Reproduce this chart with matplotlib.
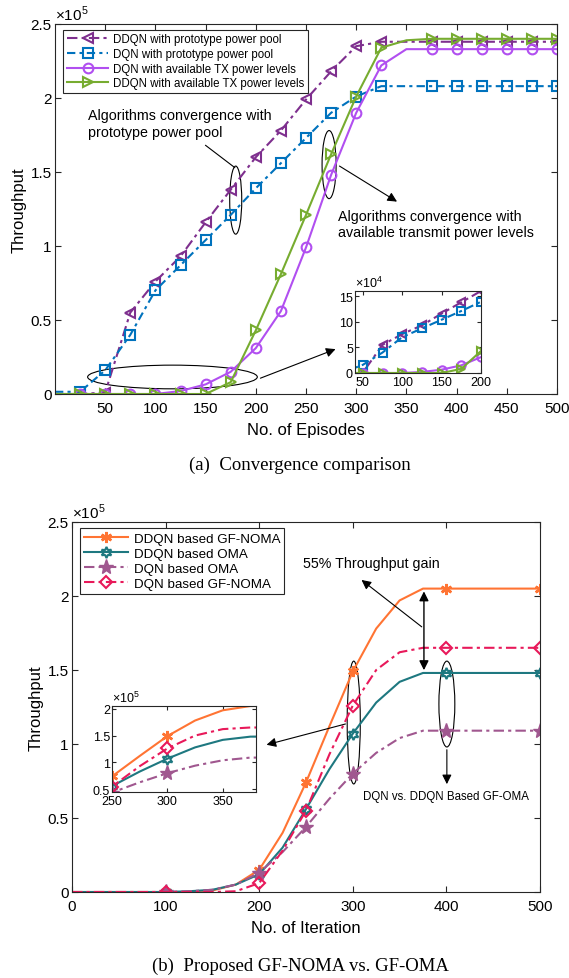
import numpy as np
import matplotlib
matplotlib.use("Agg")
import matplotlib.pyplot as plt
from matplotlib.patches import Ellipse

plt.rcParams['font.family'] = ['Liberation Sans', 'DejaVu Sans']
plt.rcParams['mathtext.fontset'] = 'custom'
plt.rcParams['mathtext.rm'] = 'Liberation Sans'

# --- (a) data, throughput in units of 1e5 ---
episodes = [0, 25, 50, 75, 100, 125, 150, 175, 200, 225, 250, 275, 300,
            325, 350, 375, 400, 425, 450, 475, 500]
ddqn_proto = [0, 0, 0.01, 0.55, 0.76, 0.93, 1.16, 1.38, 1.60, 1.78, 1.99, 2.18, 2.35,
              2.38, 2.38, 2.38, 2.38, 2.38, 2.38, 2.38, 2.38]
dqn_proto = [0.015, 0.015, 0.16, 0.40, 0.70, 0.87, 1.04, 1.21, 1.39, 1.56, 1.73, 1.90, 2.01,
             2.08, 2.08, 2.08, 2.08, 2.08, 2.08, 2.08, 2.08]
dqn_avail = [0, 0, 0, 0, 0, 0.02, 0.065, 0.15, 0.31, 0.56, 0.99, 1.48, 1.90,
             2.22, 2.33, 2.33, 2.33, 2.33, 2.33, 2.33, 2.33]
ddqn_avail = [0, 0, 0, 0, 0, 0, 0, 0.08, 0.43, 0.81, 1.21, 1.62, 2.01,
              2.34, 2.39, 2.40, 2.40, 2.40, 2.40, 2.40, 2.40]
labels_a = ['DDQN with prototype power pool', 'DQN with prototype power pool',
            'DQN with available TX power levels', 'DDQN with available TX power levels']

# --- (b) data, throughput in units of 1e5 ---
iters = [0, 25, 50, 75, 100, 125, 150, 175, 200, 225, 250, 275, 300,
         325, 350, 375, 400, 425, 450, 475, 500]
ddqn_noma = [0, 0, 0, 0, 0, 0, 0.01, 0.05, 0.15, 0.40, 0.74, 1.12, 1.49,
             1.78, 1.97, 2.05, 2.05, 2.05, 2.05, 2.05, 2.05]
ddqn_oma = [0, 0, 0, 0, 0, 0.005, 0.015, 0.05, 0.12, 0.30, 0.56, 0.83, 1.07,
            1.28, 1.42, 1.48, 1.48, 1.48, 1.48, 1.48, 1.48]
dqn_oma = [0, 0, 0, 0, 0, 0.005, 0.015, 0.05, 0.13, 0.27, 0.44, 0.63, 0.80,
           0.94, 1.04, 1.09, 1.09, 1.09, 1.09, 1.09, 1.09]
dqn_noma = [0, 0, 0, 0, 0, 0, 0, 0.005, 0.06, 0.28, 0.55, 0.93, 1.26,
            1.50, 1.62, 1.65, 1.65, 1.65, 1.65, 1.65, 1.65]
labels_b = ['DDQN based GF-NOMA', 'DDQN based OMA', 'DQN based OMA', 'DQN based GF-NOMA']

W, H = 569, 979
fig = plt.figure(figsize=(W / 100, H / 100), dpi=100)


def rect(l, r, t, b):
    return [l / W, 1 - b / H, (r - l) / W, (b - t) / H]


def matlab_axes(ax, fs, xpad=5, ypad=2.5):
    ax.tick_params(direction='in', top=True, right=True, labelsize=fs,
                   color='#262626', length=4, width=0.8)
    ax.tick_params(axis='x', pad=xpad)
    ax.tick_params(axis='y', pad=ypad)
    for s in ax.spines.values():
        s.set_color('#262626')
        s.set_linewidth(0.8)


style_a = [
    dict(color='#7E2F8E', ls=(0, (5, 2, 1.5, 2)), marker='<'),
    dict(color='#0072BD', ls=(0, (4, 2, 1.5, 2)), marker='s'),
    dict(color='#B14FF0', ls='-', marker='o'),
    dict(color='#77AC30', ls='-', marker='>'),
]
series_a = [ddqn_proto, dqn_proto, dqn_avail, ddqn_avail]
marks_a = [i for i in range(1, 21) if episodes[i] != 350]

style_b = [
    dict(color='#FF7433', ls='-', marker=(6, 2, 0), ms=8, mew=1.8),
    dict(color='#1E7880', ls='-', marker=(6, 1, 0), ms=8, mew=1.5, mfc='none'),
    dict(color='#A0578F', ls=(0, (5, 2, 1.5, 2)), marker='*', ms=11, mew=1, mfc='#A0578F'),
    dict(color='#E8195A', ls=(0, (5, 2, 1.5, 2)), marker='D', ms=6, mew=1.5, mfc='none'),
]
series_b = [ddqn_noma, ddqn_oma, dqn_oma, dqn_noma]
marks_b = [4, 8, 10, 12, 16, 20]


def draw_a(ax, scale=1.0, ms=7):
    for y, st, lab in zip(series_a, style_a, labels_a):
        ax.plot(episodes, np.array(y) * scale, color=st['color'], ls=st['ls'], lw=1.5,
                marker=st['marker'], ms=ms, mfc='none', mew=1.5, markevery=marks_a, label=lab)


def draw_b(ax):
    for y, st, lab in zip(series_b, style_b, labels_b):
        ax.plot(iters, y, color=st['color'], ls=st['ls'], lw=1.5, marker=st['marker'],
                ms=st['ms'], mew=st['mew'], mfc=st['mfc'] if 'mfc' in st else st['color'],
                markevery=marks_b, label=lab)


# ================= (a) =================
ax1 = fig.add_axes(rect(55, 557, 25, 395))
draw_a(ax1)
ax1.set_xlim(0, 500)
ax1.set_ylim(0, 2.5)
ax1.set_xticks(range(50, 501, 50))
ax1.set_yticks([0, 0.5, 1, 1.5, 2, 2.5])
ax1.set_yticklabels(['0', '0.5', '1', '1.5', '2', '2.5'])
matlab_axes(ax1, 11)
ax1.set_xlabel('No. of Episodes', fontsize=12, labelpad=5)
ax1.set_ylabel('Throughput', fontsize=12, labelpad=3)
ax1.text(0.0, 1.003, r'$\times10^5$', transform=ax1.transAxes, fontsize=11, va='bottom')
leg = ax1.legend(loc='upper left', bbox_to_anchor=(0.012, 0.99), fontsize=8.3, frameon=True,
                 fancybox=False, edgecolor='#262626', framealpha=1, handlelength=3.6,
                 borderpad=0.3, labelspacing=0.22, handletextpad=0.4, borderaxespad=0.2)
leg.get_frame().set_linewidth(0.8)

ax1.add_patch(Ellipse((180, 1.31), 12, 0.46, fill=False, lw=0.8, color='black'))
ax1.add_patch(Ellipse((273, 1.55), 14, 0.46, fill=False, lw=0.8, color='black'))
ax1.add_patch(Ellipse((117, 0.115), 169, 0.16, fill=False, lw=0.8, color='black'))
ax1.plot([150, 179], [1.68, 1.53], color='black', lw=0.8)
ax1.annotate('', xy=(343, 1.29), xytext=(281, 1.55),
             arrowprops=dict(arrowstyle='-|>', color='black', lw=0.8, mutation_scale=14))
ax1.annotate('', xy=(282, 0.31), xytext=(202, 0.10),
             arrowprops=dict(arrowstyle='-|>', color='black', lw=0.8, mutation_scale=14))
ax1.text(33, 1.93, 'Algorithms convergence with\nprototype power pool', fontsize=10.3,
         va='top', ha='left', linespacing=1.2)
ax1.text(282, 1.25, 'Algorithms convergence with\navailable transmit power levels', fontsize=10.3,
         va='top', ha='left', linespacing=1.2)

ins1 = fig.add_axes(rect(355, 481, 292, 374))
draw_a(ins1, scale=10, ms=6)
ins1.set_xlim(40, 200)
ins1.set_ylim(0, 16)
ins1.set_xticks([50, 100, 150, 200])
ins1.set_yticks([0, 5, 10, 15])
matlab_axes(ins1, 9, xpad=2, ypad=1.5)
ins1.tick_params(length=3)
ins1.text(0.0, 1.01, r'$\times10^4$', transform=ins1.transAxes, fontsize=9, va='bottom')

fig.text(300 / W, 1 - 465 / H, '(a)  Convergence comparison', fontsize=13.5,
         family=['Liberation Serif', 'DejaVu Serif'], ha='center', va='center')

# ================= (b) =================
ax2 = fig.add_axes(rect(72, 540, 523, 893))
draw_b(ax2)
ax2.set_xlim(0, 500)
ax2.set_ylim(0, 2.5)
ax2.set_xticks(range(0, 501, 100))
ax2.set_yticks([0, 0.5, 1, 1.5, 2, 2.5])
ax2.set_yticklabels(['0', '0.5', '1', '1.5', '2', '2.5'])
matlab_axes(ax2, 11)
ax2.set_xlabel('No. of Iteration', fontsize=12, labelpad=5)
ax2.set_ylabel('Throughput', fontsize=12, labelpad=3)
ax2.text(0.0, 1.003, r'$\times10^5$', transform=ax2.transAxes, fontsize=11, va='bottom')
leg2 = ax2.legend(loc='upper left', bbox_to_anchor=(0.012, 0.99), fontsize=9.6, frameon=True,
                  fancybox=False, edgecolor='#262626', framealpha=1, handlelength=3.3,
                  borderpad=0.3, labelspacing=0.2, handletextpad=0.4, borderaxespad=0.2)
leg2.get_frame().set_linewidth(0.8)

ax2.text(247, 2.22, '55% Throughput gain', fontsize=10.3, va='center', ha='left')
ax2.annotate('', xy=(307, 2.12), xytext=(376, 1.78),
             arrowprops=dict(arrowstyle='-|>', color='black', lw=0.8, mutation_scale=14))
ax2.annotate('', xy=(376, 2.05), xytext=(376, 1.48),
             arrowprops=dict(arrowstyle='<|-|>', color='black', lw=1.0, mutation_scale=14))
ax2.add_patch(Ellipse((301, 1.145), 14, 0.83, fill=False, lw=0.8, color='black'))
ax2.annotate('', xy=(205, 0.99), xytext=(295, 1.14),
             arrowprops=dict(arrowstyle='-|>', color='black', lw=0.8, mutation_scale=14))
ax2.add_patch(Ellipse((400.5, 1.27), 17, 0.58, fill=False, lw=0.8, color='black'))
ax2.annotate('', xy=(400.5, 0.71), xytext=(400.5, 0.98),
             arrowprops=dict(arrowstyle='-|>', color='black', lw=0.8, mutation_scale=14))
ax2.text(400, 0.65, 'DQN vs. DDQN Based GF-OMA', fontsize=8.3, ha='center', va='center')

ins2 = fig.add_axes(rect(112, 256, 707, 793))
draw_b(ins2)
ins2.set_xlim(250, 380)
ins2.set_ylim(0.45, 2.05)
ins2.set_xticks([250, 300, 350])
ins2.set_yticks([0.5, 1, 1.5, 2])
ins2.set_yticklabels(['0.5', '1', '1.5', '2'])
matlab_axes(ins2, 9, xpad=2, ypad=1.5)
ins2.tick_params(length=3)
ins2.text(0.0, 1.01, r'$\times10^5$', transform=ins2.transAxes, fontsize=9, va='bottom')

fig.text(300 / W, 1 - 966 / H, '(b)  Proposed GF-NOMA vs. GF-OMA', fontsize=13.5,
         family=['Liberation Serif', 'DejaVu Serif'], ha='center', va='center')

fig.savefig('out.png', dpi=100)
